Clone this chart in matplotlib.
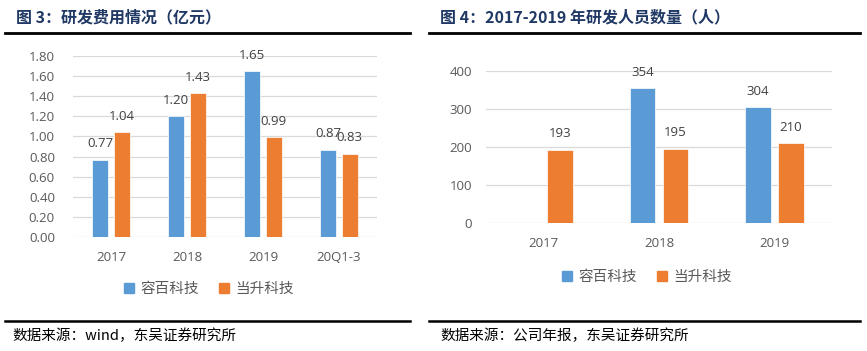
import numpy as np
import matplotlib
matplotlib.use("Agg")
import matplotlib.pyplot as plt
from matplotlib.lines import Line2D
from matplotlib.patches import Patch

plt.rcParams['font.family'] = ['Open Sans', 'Noto Sans CJK SC', 'DejaVu Sans']

# ---- data ----
left_categories = ['2017', '2018', '2019', '20Q1-3']
left_rongbai = [0.77, 1.20, 1.65, 0.87]
left_dangsheng = [1.04, 1.43, 0.99, 0.83]
left_yticks = [0.0, 0.2, 0.4, 0.6, 0.8, 1.0, 1.2, 1.4, 1.6, 1.8]

right_categories = ['2017', '2018', '2019']
right_rongbai = [np.nan, 354, 304]
right_dangsheng = [193, 195, 210]
right_yticks = [0, 100, 200, 300, 400]

series_names = ['容百科技', '当升科技']
title_left = '图 3：研发费用情况（亿元）'
title_right = '图 4：2017-2019 年研发人员数量（人）'
source_left = '数据来源：wind，东吴证券研究所'
source_right = '数据来源：公司年报，东吴证券研究所'

BLUE = '#5B9BD5'
ORANGE = '#ED7D31'
GRID = '#D9D9D9'
TICK = '#595959'
LABEL = '#404040'
NAVY = '#1F3864'
CJK = ['Noto Sans CJK SC', 'DejaVu Sans']

W, H = 867, 351
fig = plt.figure(figsize=(W / 100, H / 100), dpi=100)


def px_axes(x0, x1, y_top, y_bot):
    return fig.add_axes([x0 / W, 1 - y_bot / H, (x1 - x0) / W, (y_bot - y_top) / H])


def draw(ax, cats, s1, s2, yticks, fmt, ypad, xpad, bw, off):
    x = np.arange(len(cats))
    b1 = ax.bar(x - off, s1, bw, color=BLUE, edgecolor='white', linewidth=0.5, zorder=3)
    b2 = ax.bar(x + off, s2, bw, color=ORANGE, edgecolor='white', linewidth=0.5, zorder=3)
    for bars, vals in ((b1, s1), (b2, s2)):
        for r, v in zip(bars, vals):
            if np.isnan(v):
                continue
            ax.annotate(fmt.format(v), (r.get_x() + r.get_width() / 2, v),
                        xytext=(0, 11.5), textcoords='offset points',
                        ha='center', va='center', fontsize=9.5, color=LABEL,
                        annotation_clip=False, zorder=4)
    ax.set_xlim(-0.5, len(cats) - 0.5)
    ax.set_ylim(yticks[0], yticks[-1])
    ax.set_yticks(yticks)
    ax.set_yticklabels([fmt.format(t) for t in yticks])
    ax.set_xticks(x)
    ax.set_xticklabels(cats)
    ax.tick_params(axis='y', length=0, pad=ypad, labelsize=9.5, labelcolor=TICK)
    ax.tick_params(axis='x', length=0, pad=xpad, labelsize=9.5, labelcolor=TICK)
    for s in ax.spines.values():
        s.set_visible(False)
    ax.grid(axis='y', color=GRID, linewidth=0.9, zorder=0)
    ax.set_axisbelow(True)


axL = px_axes(73, 377, 56, 237)
draw(axL, left_categories, left_rongbai, left_dangsheng, left_yticks, '{:.2f}', 13, 10, 0.22, 0.143)

axR = px_axes(486, 832, 71, 223)
draw(axR, right_categories, right_rongbai, right_dangsheng, right_yticks, '{:.0f}', 10, 10, 0.225, 0.143)

handles = [Patch(color=BLUE), Patch(color=ORANGE)]
for cx, cy in ((209, 289), (647, 277)):
    leg = fig.legend(handles, series_names, loc='center', bbox_to_anchor=(cx / W, 1 - cy / H),
                     ncol=2, frameon=False, handlelength=0.7, handleheight=0.7,
                     handletextpad=0.4, columnspacing=1.4,
                     prop={'family': CJK, 'size': 10.5})
    for t in leg.get_texts():
        t.set_color(TICK)

# titles
fig.text(16 / W, 1 - 17 / H, title_left, fontsize=11.5, fontweight='bold', color=NAVY,
         family=CJK, ha='left', va='center')
fig.text(440 / W, 1 - 17 / H, title_right, fontsize=11.5, fontweight='bold', color=NAVY,
         family=CJK, ha='left', va='center')

# rules
for (x0, x1) in ((5, 410), (429, 860)):
    fig.add_artist(Line2D([x0 / W, x1 / W], [1 - 33 / H] * 2, color='black', linewidth=2.0))
    fig.add_artist(Line2D([x0 / W, x1 / W], [1 - 321 / H] * 2, color='black', linewidth=1.8))

# sources
fig.text(12 / W, 1 - 336 / H, source_left, fontsize=10.5, color='black', family=CJK,
         ha='left', va='center')
fig.text(440 / W, 1 - 336 / H, source_right, fontsize=10.5, color='black', family=CJK,
         ha='left', va='center')

fig.savefig('out.png', dpi=100)
